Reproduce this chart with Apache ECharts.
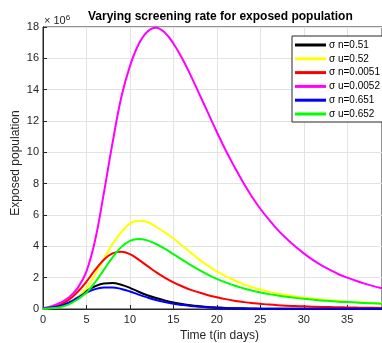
<!DOCTYPE html>
<html>
<head>
<meta charset="utf-8">
<script src="https://cdn.jsdelivr.net/npm/echarts@6/dist/echarts.min.js"></script>
<style>
  html, body { margin: 0; padding: 0; background: #fff; }
  #main { width: 382px; height: 343px; }
</style>
</head>
<body>
<div id="main"></div>
<script>
// time in days, values in units of 10^6
const days = [];
for (let i = 0; i <= 39; i++) days.push(i);

const seriesNames = ['σ n=0.51', 'σ u=0.52', 'σ n=0.0051', 'σ u=0.0052', 'σ n=0.651', 'σ u=0.652'];
const seriesColors = ['#000000', '#ffff00', '#ff0000', '#ff00ff', '#0000ff', '#00ff00'];

const blackN = [0.05,0.1,0.2,0.4,0.75,1.15,1.45,1.63,1.66,1.55,1.35,1.1,0.88,0.7,0.55,0.42,0.32,0.24,0.18,0.13,
  0.1,0.07,0.05,0.04,0.03,0.02,0.02,0.02,0.01,0.01,0.01,0.01,0.01,0.01,0.01,0.01,0.01,0.01,0.01,0.01];
const yellowU = [0.03,0.07,0.15,0.35,0.75,1.35,2.2,3.2,4.15,4.9,5.45,5.64,5.55,5.25,4.9,4.5,4.05,3.6,3.15,2.75,
  2.4,2.1,1.83,1.6,1.41,1.25,1.11,0.99,0.89,0.8,0.72,0.66,0.6,0.55,0.51,0.47,0.44,0.41,0.39,0.37];
const redN = [0.05,0.12,0.28,0.6,1.1,1.75,2.5,3.15,3.55,3.65,3.5,3.15,2.75,2.35,2.0,1.7,1.45,1.22,1.05,0.88,
  0.75,0.63,0.53,0.45,0.38,0.33,0.28,0.24,0.21,0.19,0.17,0.15,0.13,0.12,0.11,0.1,0.09,0.08,0.08,0.07];
const magentaU = [0.05,0.18,0.4,0.75,1.35,2.4,4.4,7.4,10.6,13.5,15.5,16.9,17.7,17.95,17.65,16.95,16.0,14.9,13.7,12.5,
  11.3,10.15,9.1,8.1,7.2,6.4,5.7,5.05,4.5,4.0,3.55,3.15,2.8,2.5,2.22,2.0,1.8,1.62,1.46,1.32];
const blueN = [0.05,0.1,0.2,0.4,0.72,1.05,1.27,1.37,1.38,1.28,1.12,0.92,0.74,0.58,0.45,0.34,0.26,0.19,0.14,0.1,
  0.07,0.05,0.04,0.03,0.02,0.02,0.01,0.01,0.01,0.01,0.01,0.01,0.01,0.01,0.01,0.01,0.01,0.01,0.01,0.01];
const greenU = [0.02,0.05,0.12,0.3,0.62,1.05,1.7,2.5,3.3,3.95,4.35,4.47,4.38,4.15,3.85,3.5,3.15,2.8,2.48,2.18,
  1.92,1.7,1.5,1.33,1.18,1.06,0.95,0.86,0.78,0.71,0.65,0.6,0.55,0.51,0.47,0.44,0.41,0.38,0.36,0.34];

const allValues = [blackN, yellowU, redN, magentaU, blueN, greenU];

let myChart = echarts.init(document.getElementById('main'));
const font = 'Liberation Sans, Arial, sans-serif';

let option = {
  animation: false,
  backgroundColor: '#fff',
  title: {
    text: 'Varying screening rate for exposed population',
    left: 88,
    top: 11,
    padding: 0,
    textStyle: { fontFamily: font, fontSize: 12, fontWeight: 'bold', color: '#000' }
  },
  graphic: [
    {
      type: 'text',
      left: 44,
      top: 14,
      style: {
        text: '× 10{s|6}',
        font: '11px ' + font,
        fill: '#262626',
        rich: { s: { fontSize: 8, verticalAlign: 'top', padding: [0, 0, 6, 0], fill: '#262626' } }
      }
    }
  ],
  legend: {
    orient: 'vertical',
    left: 292,
    top: 36,
    padding: [3, 4, 2, 3],
    itemWidth: 31,
    itemHeight: 3,
    itemGap: 1.8,
    icon: 'rect',
    borderColor: '#262626',
    borderWidth: 1,
    backgroundColor: '#fff',
    textStyle: { fontFamily: font, fontSize: 10, color: '#000', lineHeight: 12, padding: [0, 0, 0, -2] },
    data: seriesNames
  },
  grid: {
    left: 43, right: 0, top: 27, bottom: 34,
    outerBoundsMode: 'none',
    containLabel: false,
    show: true, borderColor: '#262626', borderWidth: 1
  },
  xAxis: {
    type: 'value',
    min: 0, max: 39, interval: 5,
    name: 'Time t(in days)',
    nameLocation: 'middle',
    nameGap: 21,
    nameTextStyle: { fontFamily: font, fontSize: 12, color: '#262626', padding: [0, 0, 0, 14] },
    axisLine: { lineStyle: { color: '#262626' } },
    axisTick: { inside: true, length: 4, lineStyle: { color: '#262626' } },
    axisLabel: { fontFamily: font, fontSize: 11, color: '#262626', margin: 5, showMaxLabel: false },
    splitLine: { lineStyle: { color: '#e3e3e3' } }
  },
  yAxis: {
    type: 'value',
    min: 0, max: 18, interval: 2,
    name: 'Exposed population',
    nameLocation: 'middle',
    nameGap: 21,
    nameMoveOverlap: false,
    nameTextStyle: { fontFamily: font, fontSize: 12, color: '#262626', padding: [0, 0, 0, 10] },
    axisLine: { show: true, lineStyle: { color: '#262626' } },
    axisTick: { show: true, inside: true, length: 4, lineStyle: { color: '#262626' } },
    axisLabel: { fontFamily: font, fontSize: 11, color: '#262626', margin: 4 },
    splitLine: { lineStyle: { color: '#e3e3e3' } }
  },
  series: seriesNames.map((name, k) => ({
    name: name,
    type: 'line',
    smooth: 0.4,
    symbol: 'none',
    color: seriesColors[k],
    lineStyle: { width: 2, color: seriesColors[k] },
    data: days.map((d, i) => [d, allValues[k][i]])
  }))
};

option && myChart.setOption(option);
</script>
</body>
</html>
